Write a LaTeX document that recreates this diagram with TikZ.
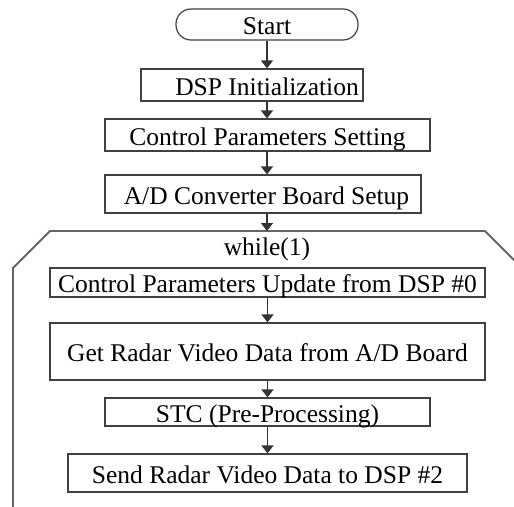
\documentclass[tikz,border=0pt]{standalone}
\usepackage{fontspec}
\setmainfont{Liberation Serif}
\usetikzlibrary{arrows.meta}

\tikzset{
  box/.style={draw=black!75, line width=1.2pt, inner sep=0pt},
  lbl/.style={font=\fontsize{25.5}{30}\selectfont, text height=20pt, text depth=0pt, inner sep=0pt},
  arr/.style={draw=black!80, line width=1.2pt, -{Triangle[width=12pt,length=8pt]}},
  loopline/.style={draw=black!60, line width=1.8pt}
}

\begin{document}
\begin{tikzpicture}[x=1pt, y=-1pt]
  \useasboundingbox (0,0) rectangle (514,506);
  \clip (0,0) rectangle (514,506);

  % terminator
  \node[box, lbl, rounded corners=15pt, minimum width=182pt, minimum height=31pt] (start) at (267,24.5) {Start};

  % set-up steps
  \node[box, minimum width=222pt, minimum height=32pt] (dsp) at (252,85) {};
  \node[lbl] (dsptxt) at (267,85) {DSP Initialization};
  \node[box, lbl, minimum width=325pt, minimum height=32pt] (cps) at (267.5,135) {Control Parameters Setting};
  \node[box, minimum width=316pt, minimum height=38pt] (ad) at (263,194) {};
  \node[lbl] (adtxt) at (266.5,194) {A/D Converter Board Setup};

  % endless loop frame
  \draw[loopline] (13,530) -- (13,268) -- (50,231) -- (485,231) -- (540,286);
  \coordinate (looptop) at (267,231);
  \node[lbl] (while) at (267,245) {while(1)};

  % loop body
  \node[box, lbl, minimum width=435pt, minimum height=29pt] (upd) at (267.5,282.5) {Control Parameters Update from DSP \#0};
  \node[box, lbl, minimum width=435pt, minimum height=57pt] (get) at (267.5,351.5) {Get Radar Video Data from A/D Board};
  \node[box, lbl, minimum width=325pt, minimum height=28pt] (stc) at (267.5,412) {STC (Pre-Processing)};
  \node[box, lbl, minimum width=399pt, minimum height=38pt] (send) at (267.5,473) {Send Radar Video Data to DSP \#2};

  % flow arrows
  \draw[arr] (start.south) -- (start.south |- dsp.north);
  \draw[arr] (start.south |- dsp.south) -- (start.south |- cps.north);
  \draw[arr] (start.south |- cps.south) -- (start.south |- ad.north);
  \draw[arr] (start.south |- ad.south) -- (looptop);
  \draw[arr] (upd.south) -- (get.north);
  \draw[arr] (get.south) -- (stc.north);
  \draw[arr] (stc.south) -- (send.north);
\end{tikzpicture}
\end{document}
